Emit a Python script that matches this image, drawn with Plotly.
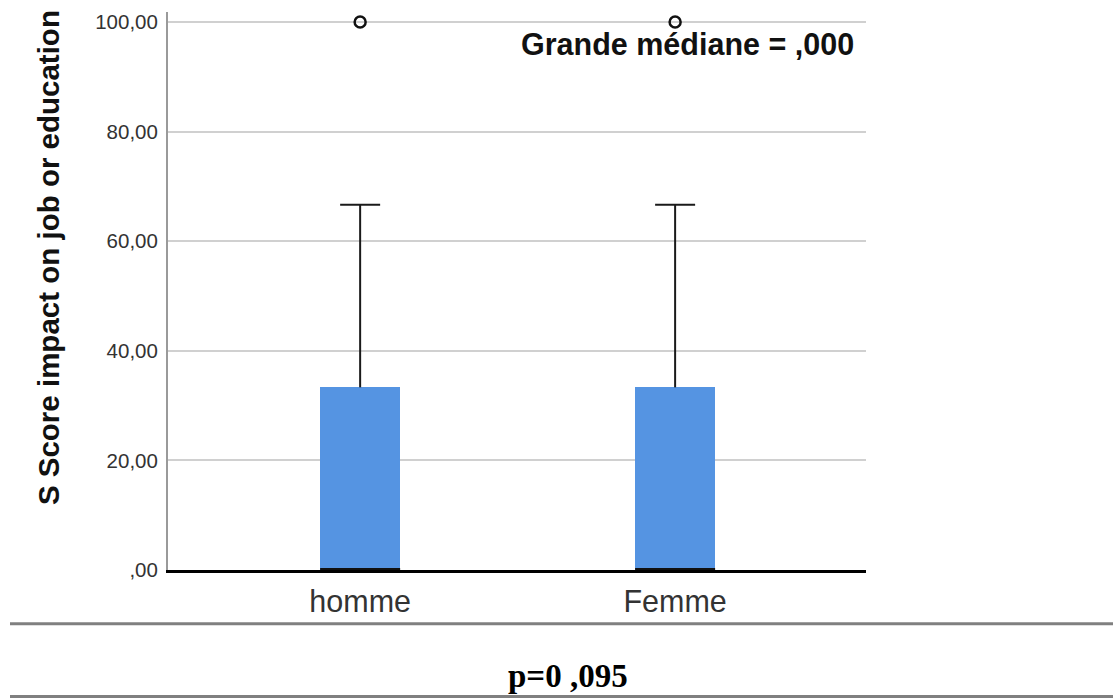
import plotly.graph_objects as go

# Box-plot summary for each sex group
groups = ["homme", "Femme"]
q1 = [0.0, 0.0]
median = [0.0, 0.0]
q3 = [33.33, 33.33]
upper_whisker = [66.67, 66.67]
outliers = [100.0, 100.0]

y_ticks = [0, 20, 40, 60, 80, 100]
y_tick_text = [",00", "20,00", "40,00", "60,00", "80,00", "100,00"]

grand_median_label = "Grande médiane = ,000"
p_value_label = "p=0 ,095"
y_title = "S Score impact on job or education"

W, H = 1113, 700
ML, MR, MT, MB = 168, 247, 10, 130
plot_w = W - ML - MR
plot_h = H - MT - MB


def px_x(px):
    return (px - ML) / plot_w


def px_y(py):
    return (H - MB - py) / plot_h


xpos = list(range(len(groups)))
box_w = 0.254
cap_w = 0.127
box_color = "#5594e2"
ink = "#1a1a1a"

fig = go.Figure()

# box body (Q1..Q3)
fig.add_trace(go.Bar(
    x=xpos,
    y=[b - a for a, b in zip(q1, q3)],
    base=q1,
    width=box_w,
    marker=dict(color=box_color, line=dict(width=0)),
    hoverinfo="skip",
    showlegend=False,
))

# upper whiskers with caps
for x, top, hi in zip(xpos, q3, upper_whisker):
    fig.add_trace(go.Scatter(
        x=[x, x, None, x - cap_w / 2, x + cap_w / 2],
        y=[top, hi, None, hi, hi],
        mode="lines", line=dict(color=ink, width=2),
        showlegend=False, hoverinfo="skip",
    ))

# median lines
for x, m in zip(xpos, median):
    fig.add_trace(go.Scatter(
        x=[x - box_w / 2, x + box_w / 2], y=[m, m],
        mode="lines", line=dict(color="#111111", width=4),
        cliponaxis=False, showlegend=False, hoverinfo="skip",
    ))

# outliers
fig.add_trace(go.Scatter(
    x=xpos, y=outliers, mode="markers",
    marker=dict(symbol="circle-open", size=11, color="#111111",
                line=dict(width=2.5, color="#111111")),
    cliponaxis=False, showlegend=False, hoverinfo="skip",
))

fig.update_layout(
    width=W, height=H,
    margin=dict(l=ML, r=MR, t=MT, b=MB),
    paper_bgcolor="white", plot_bgcolor="white",
    bargap=0,
    font=dict(family="Liberation Sans, Arial, sans-serif", color="#333333"),
    xaxis=dict(
        range=[-0.61, 1.606],
        tickvals=xpos, ticktext=groups,
        tickfont=dict(size=30.5, color="#333333"),
        showgrid=False, zeroline=False,
        showline=True, linecolor="#000000", linewidth=3,
        ticks="outside", ticklen=2, tickcolor="rgba(0,0,0,0)",
    ),
    yaxis=dict(
        range=[0, 101.82],
        tickvals=y_ticks, ticktext=y_tick_text,
        tickfont=dict(size=20.5, color="#333333"),
        showgrid=True, gridcolor="#d0d0d0", gridwidth=2,
        zeroline=False,
        showline=True, linecolor="#9a9a9a", linewidth=2,
        ticks="outside", ticklen=4, tickcolor="rgba(0,0,0,0)",
    ),
    annotations=[
        dict(text=f"<b>{grand_median_label}</b>", xref="paper", yref="paper",
             x=px_x(856), y=px_y(42), xanchor="right", yanchor="middle",
             showarrow=False, font=dict(size=30.5, color="#111111")),
        dict(text=f"<b>{y_title}</b>", xref="paper", yref="paper",
             x=px_x(48), y=px_y(257), xanchor="center", yanchor="middle",
             textangle=-90, showarrow=False,
             font=dict(size=29.5, color="#111111")),
        dict(text=f"<b>{p_value_label}</b>", xref="paper", yref="paper",
             x=px_x(568), y=px_y(676), xanchor="center", yanchor="middle",
             showarrow=False,
             font=dict(size=33, color="#000000",
                       family="Liberation Serif, Times New Roman, serif")),
    ],
    shapes=[
        dict(type="line", xref="paper", yref="paper",
             x0=px_x(10), x1=px_x(W), y0=px_y(624), y1=px_y(624),
             line=dict(color="#808080", width=3)),
        dict(type="line", xref="paper", yref="paper",
             x0=px_x(10), x1=px_x(W), y0=px_y(697), y1=px_y(697),
             line=dict(color="#808080", width=3)),
    ],
)

fig.write_html("out.html")
